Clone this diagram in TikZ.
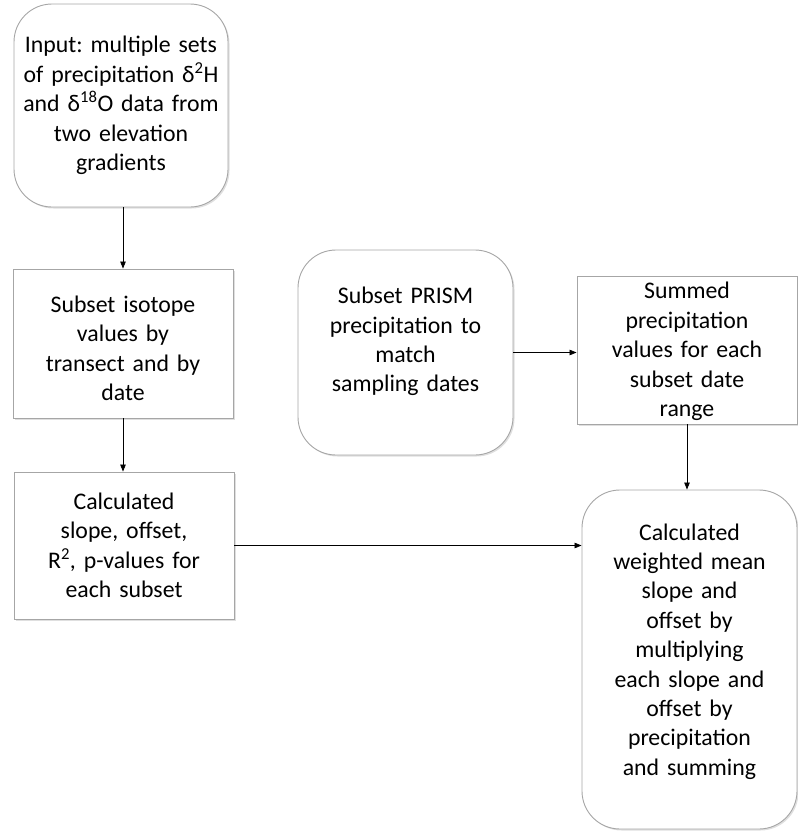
\documentclass[tikz,border=0pt]{standalone}
\usepackage{fontspec}
\setmainfont{Carlito}
\usetikzlibrary{arrows.meta,shadows}
\begin{document}
\frenchspacing
\begin{tikzpicture}[x=1pt,y=-1pt,
  base/.style={draw=gray!70, line width=0.9pt, fill=white, inner sep=0pt,
    drop shadow={shadow xshift=1.5pt, shadow yshift=-1.5pt, opacity=0.25, fill=gray}},
  rbox/.style={base, rounded corners=38pt},
  sbox/.style={base},
  txt/.style={align=center, inner sep=0pt, font=\fontsize{23.8}{29.4}\selectfont, text width=212pt},
  conn/.style={line width=0.8pt, -{Triangle[length=7pt,width=5.5pt]}}]
\useasboundingbox (0,0) rectangle (798,831);
\node[rbox, minimum width=214pt, minimum height=203pt] (b1) at (121,105.5) {};
\node[sbox, minimum width=220pt, minimum height=149pt] (b2) at (123,343.5) {};
\node[sbox, minimum width=220pt, minimum height=147pt] (b3) at (124,545.5) {};
\node[rbox, minimum width=215pt, minimum height=205pt] (b4) at (405.5,352.5) {};
\node[sbox, minimum width=220pt, minimum height=148pt] (b5) at (687,350) {};
\node[rbox, minimum width=215pt, minimum height=339pt] (b6) at (689.5,659.5) {};
\node[txt] (t1) at (b1.center)
  {Input: multiple sets\\of precipitation δ\textsuperscript{2}H\\and δ\textsuperscript{18}O data from\\two elevation\\gradients};
\node[txt] (t2) at ([yshift=-5pt]b2.center)
  {Subset isotope\\values by\\transect and by\\date};
\node[txt] (t3) at (b3.center)
  {Calculated\\slope, offset,\\R\textsuperscript{2}, p-values for\\each subset};
\node[txt] (t4) at ([yshift=11pt]b4.center)
  {Subset PRISM\\precipitation to\\match\\sampling dates};
\node[txt] (t5) at ([yshift=-1.5pt]b5.center)
  {Summed\\precipitation\\values for each\\subset date\\range};
\node[txt] (t6) at ([yshift=8pt]b6.center)
  {Calculated\\weighted mean\\slope and\\offset by\\multiplying\\each slope and\\offset by\\precipitation\\and summing};
\draw[conn] (b2.north |- b1.south) -- (b2.north);
\draw[conn] (b2.south) -- (b2.south |- b3.north);
\draw[conn] (b4.east) -- (b4.east -| b5.west);
\draw[conn] (b5.south) -- (b5.south |- b6.north);
\draw[conn] (b3.east) -- (b3.east -| b6.west);
\end{tikzpicture}
\end{document}
